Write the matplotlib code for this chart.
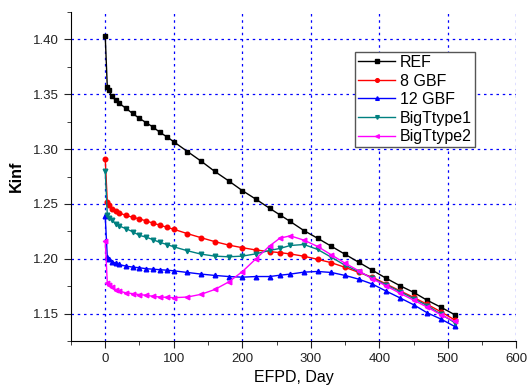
import numpy as np
import matplotlib
matplotlib.use('Agg')
import matplotlib.pyplot as plt
from matplotlib.ticker import MultipleLocator

plt.rcParams['font.family'] = ['Liberation Sans', 'DejaVu Sans']

# EFPD days (common sampling of all curves)
days = [0, 3, 5, 10, 15, 20, 30, 40, 50, 60, 70, 80, 90, 100, 120, 140, 160, 180,
        200, 220, 240, 255, 270, 290, 310, 330, 350, 370, 390, 410, 430, 450, 470, 490, 510]

ref = [1.403, 1.3565, 1.3535, 1.348, 1.3446, 1.342, 1.3373, 1.3325, 1.328, 1.324, 1.320,
       1.3152, 1.3112, 1.3067, 1.2978, 1.289, 1.2796, 1.2711, 1.2622, 1.2543, 1.246, 1.240,
       1.234, 1.2257, 1.2187, 1.2114, 1.2041, 1.1968, 1.1895, 1.1822, 1.1755, 1.1694, 1.1621,
       1.1558, 1.149]
gbf8 = [1.291, 1.2516, 1.249, 1.2455, 1.2434, 1.242, 1.2395, 1.2379, 1.2363, 1.2345, 1.2324,
        1.2306, 1.2287, 1.2269, 1.2229, 1.2192, 1.2156, 1.2125, 1.2101, 1.208, 1.2065, 1.2056,
        1.2044, 1.2023, 1.1995, 1.1964, 1.1922, 1.1876, 1.1831, 1.177, 1.1708, 1.1648, 1.1584,
        1.1516, 1.1443]
gbf12 = [1.2387, 1.2013, 1.200, 1.1975, 1.196, 1.1948, 1.1933, 1.1924, 1.1918, 1.1909, 1.1905,
         1.19, 1.1896, 1.189, 1.1875, 1.186, 1.1848, 1.1838, 1.1832, 1.1838, 1.1838, 1.185,
         1.186, 1.1878, 1.1884, 1.1875, 1.1848, 1.1814, 1.1769, 1.1705, 1.1644, 1.1581, 1.1507,
         1.145, 1.1383]
bigt1 = [1.280, 1.240, 1.2375, 1.235, 1.232, 1.230, 1.2275, 1.2247, 1.2213, 1.2197, 1.2173,
         1.2149, 1.213, 1.2109, 1.2073, 1.2042, 1.2024, 1.2018, 1.2024, 1.2045, 1.2076, 1.2094,
         1.2121, 1.213, 1.2085, 1.2014, 1.1941, 1.1883, 1.1823, 1.1762, 1.1701, 1.1637, 1.1573,
         1.1494, 1.1418]
bigt2 = [1.216, 1.178, 1.1765, 1.1742, 1.1718, 1.1705, 1.169, 1.1682, 1.1673, 1.1667, 1.1657,
         1.1651, 1.1648, 1.1645, 1.1651, 1.1676, 1.172, 1.1788, 1.1882, 1.200, 1.2118, 1.2188,
         1.2209, 1.217, 1.2112, 1.2036, 1.196, 1.189, 1.1817, 1.1753, 1.1686, 1.1623, 1.1559,
         1.1489, 1.1428]

fig = plt.figure(figsize=(5.27, 3.89), dpi=100)
ax = fig.add_axes([0.1347, 0.1234, 0.845, 0.8456])

# series: data, label, colour, marker
series = [
    (ref, 'REF', 'black', 's'),
    (gbf8, '8 GBF', 'red', 'o'),
    (gbf12, '12 GBF', 'blue', '^'),
    (bigt1, 'BigTtype1', '#008080', 'v'),
    (bigt2, 'BigTtype2', 'magenta', '<'),
]
for vals, lab, col, mk in series:
    ax.plot(days, vals, color=col, marker=mk, markersize=3.3, linewidth=1.0,
            label=lab, zorder=3)

ax.set_xlim(-50, 600)
ax.set_ylim(1.125, 1.425)
ax.xaxis.set_major_locator(MultipleLocator(100))
ax.xaxis.set_minor_locator(MultipleLocator(50))
ax.yaxis.set_major_locator(MultipleLocator(0.05))
ax.yaxis.set_minor_locator(MultipleLocator(0.025))
ax.yaxis.set_major_formatter(matplotlib.ticker.FormatStrFormatter('%.2f'))

ax.spines['top'].set_visible(False)
ax.spines['right'].set_visible(False)
ax.tick_params(which='major', direction='out', length=5, labelsize=9.5, colors='#222222')
ax.tick_params(which='minor', direction='out', length=3, colors='#222222')

ax.grid(True, which='major', color='blue', linestyle=(0, (2, 3)), linewidth=0.9)

ax.set_xlabel('EFPD, Day', fontsize=11.5, labelpad=4)
ax.set_ylabel('Kinf', fontsize=11.5, fontweight='bold', labelpad=7)

leg = ax.legend(loc='upper left', bbox_to_anchor=(0.638, 0.879), borderaxespad=0,
                fontsize=11.5, fancybox=False, framealpha=1, edgecolor='#555555',
                handlelength=2.3, labelspacing=0.22, borderpad=0.2, handletextpad=0.3,
                markerscale=0.8)
leg.get_frame().set_linewidth(1.0)

fig.savefig('out.png', dpi=100)
